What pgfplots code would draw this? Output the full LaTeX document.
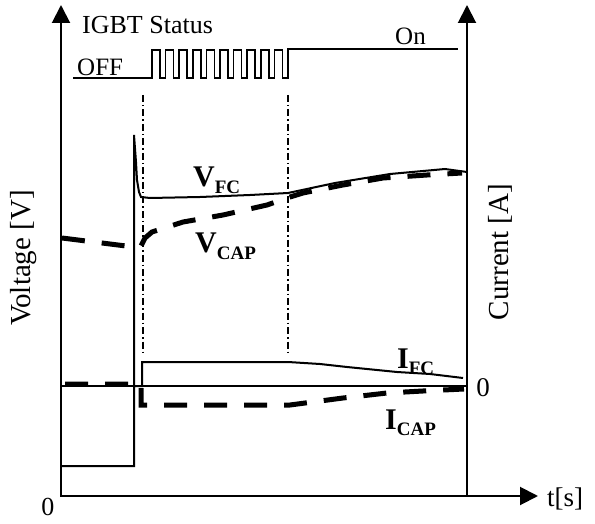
\documentclass[border=0pt]{standalone}
\usepackage{pgfplots}
\pgfplotsset{compat=1.18}
\usepackage{fontspec}
\setmainfont{Liberation Serif}
\usetikzlibrary{arrows.meta}
\newcommand{\lbl}[2]{{\fontsize{30}{30}\selectfont\bfseries #1\raisebox{-6pt}{\fontsize{19}{19}\selectfont #2}}}
\begin{document}
\begin{tikzpicture}
\begin{axis}[x=1pt,y=1pt,xmin=0,xmax=595,ymin=0,ymax=524,y dir=reverse,hide axis,clip=false]
\path (axis cs:0,0) rectangle (axis cs:595,524);
% axes
\draw[line width=2pt,-{Triangle[length=18pt,width=18pt]}] (axis cs:61,496) -- (axis cs:61,5);
\draw[line width=2pt,-{Triangle[length=18pt,width=18pt]}] (axis cs:467,496) -- (axis cs:467,5);
\draw[line width=2pt,-{Triangle[length=18pt,width=18pt]}] (axis cs:60,496) -- (axis cs:538,496);
% zero current line
\addplot[black,line width=1.5pt] coordinates {(61,386) (467,386)};
% dash-dot markers
\addplot[black,line width=1.3pt,dash pattern=on 7pt off 3pt on 1.5pt off 3pt] coordinates {(143,95) (143,355)};
\addplot[black,line width=1.3pt,dash pattern=on 7pt off 3pt on 1.5pt off 3pt] coordinates {(288,95) (288,355)};
% IGBT status
\addplot[black,line width=1.6pt] coordinates {(73,78) (152,78) (152,50) (160,50) (160,78) (165.6,78) (165.6,50) (173.6,50) (173.6,78) (179.2,78) (179.2,50) (187.2,50) (187.2,78) (192.8,78) (192.8,50) (200.8,50) (200.8,78) (206.4,78) (206.4,50) (214.4,50) (214.4,78) (220,78) (220,50) (228,50) (228,78) (233.6,78) (233.6,50) (241.6,50) (241.6,78) (247.2,78) (247.2,50) (255.2,50) (255.2,78) (260.8,78) (260.8,50) (268.8,50) (268.8,78) (274.4,78) (274.4,50) (282.4,50) (282.4,78) (288,78) (288,49) (458,49)};
% I_FC
\addplot[black,line width=2pt] coordinates {(61,466) (134,466) (134,386) (142,386) (142,362) (288,362) (320,364) (347,367) (397,372) (430,374) (463,378)};
% V_FC
\addplot[black,line width=2pt] coordinates {(134,386) (134,135) (136,162) (137,180) (139,192) (141,197) (150,198) (200,197) (250,195) (288,193) (335,183) (390,174) (445,169) (467,172)};
% V_CAP
\addplot[black,line width=5pt,dash pattern=on 23pt off 17pt] coordinates {(62,238) (134,247) (141,246) (145,238) (152,232) (183,222) (223,215) (267,205) (290,197) (303,193) (343,185) (383,178) (427,175) (462,173)};
% I_CAP
\addplot[black,line width=5pt,dash pattern=on 23pt off 17pt] coordinates {(65,384) (141,384) (141,405) (290,405) (343,398) (387,393) (423,391) (464,389)};
% labels
\node[inner sep=0,anchor=base west] at (axis cs:193,187) {\lbl{V}{FC}};
\node[inner sep=0,anchor=base west] at (axis cs:195,253) {\lbl{V}{CAP}};
\node[inner sep=0,anchor=base west] at (axis cs:397,368) {\lbl{I}{FC}};
\node[inner sep=0,anchor=base west] at (axis cs:385,429) {\lbl{I}{CAP}};
\node[inner sep=0,anchor=base west,font=\fontsize{26}{30}\selectfont] at (axis cs:82,34) {IGBT Status};
\node[inner sep=0,anchor=base west,font=\fontsize{25}{30}\selectfont] at (axis cs:77,76) {OFF};
\node[inner sep=0,anchor=base west,font=\fontsize{25}{30}\selectfont] at (axis cs:395,45) {On};
\node[inner sep=0,rotate=90,font=\fontsize{29}{30}\selectfont] at (axis cs:24,258) {Voltage [V]};
\node[inner sep=0,rotate=90,font=\fontsize{29}{30}\selectfont] at (axis cs:500,252) {Current [A]};
\node[inner sep=0,anchor=base,font=\fontsize{27}{30}\selectfont] at (axis cs:483,396) {0};
\node[inner sep=0,anchor=base,font=\fontsize{26}{30}\selectfont] at (axis cs:48,515) {0};
\node[inner sep=0,anchor=base,font=\fontsize{27}{30}\selectfont] at (axis cs:565,506) {t[s]};
\end{axis}
\end{tikzpicture}
\end{document}
